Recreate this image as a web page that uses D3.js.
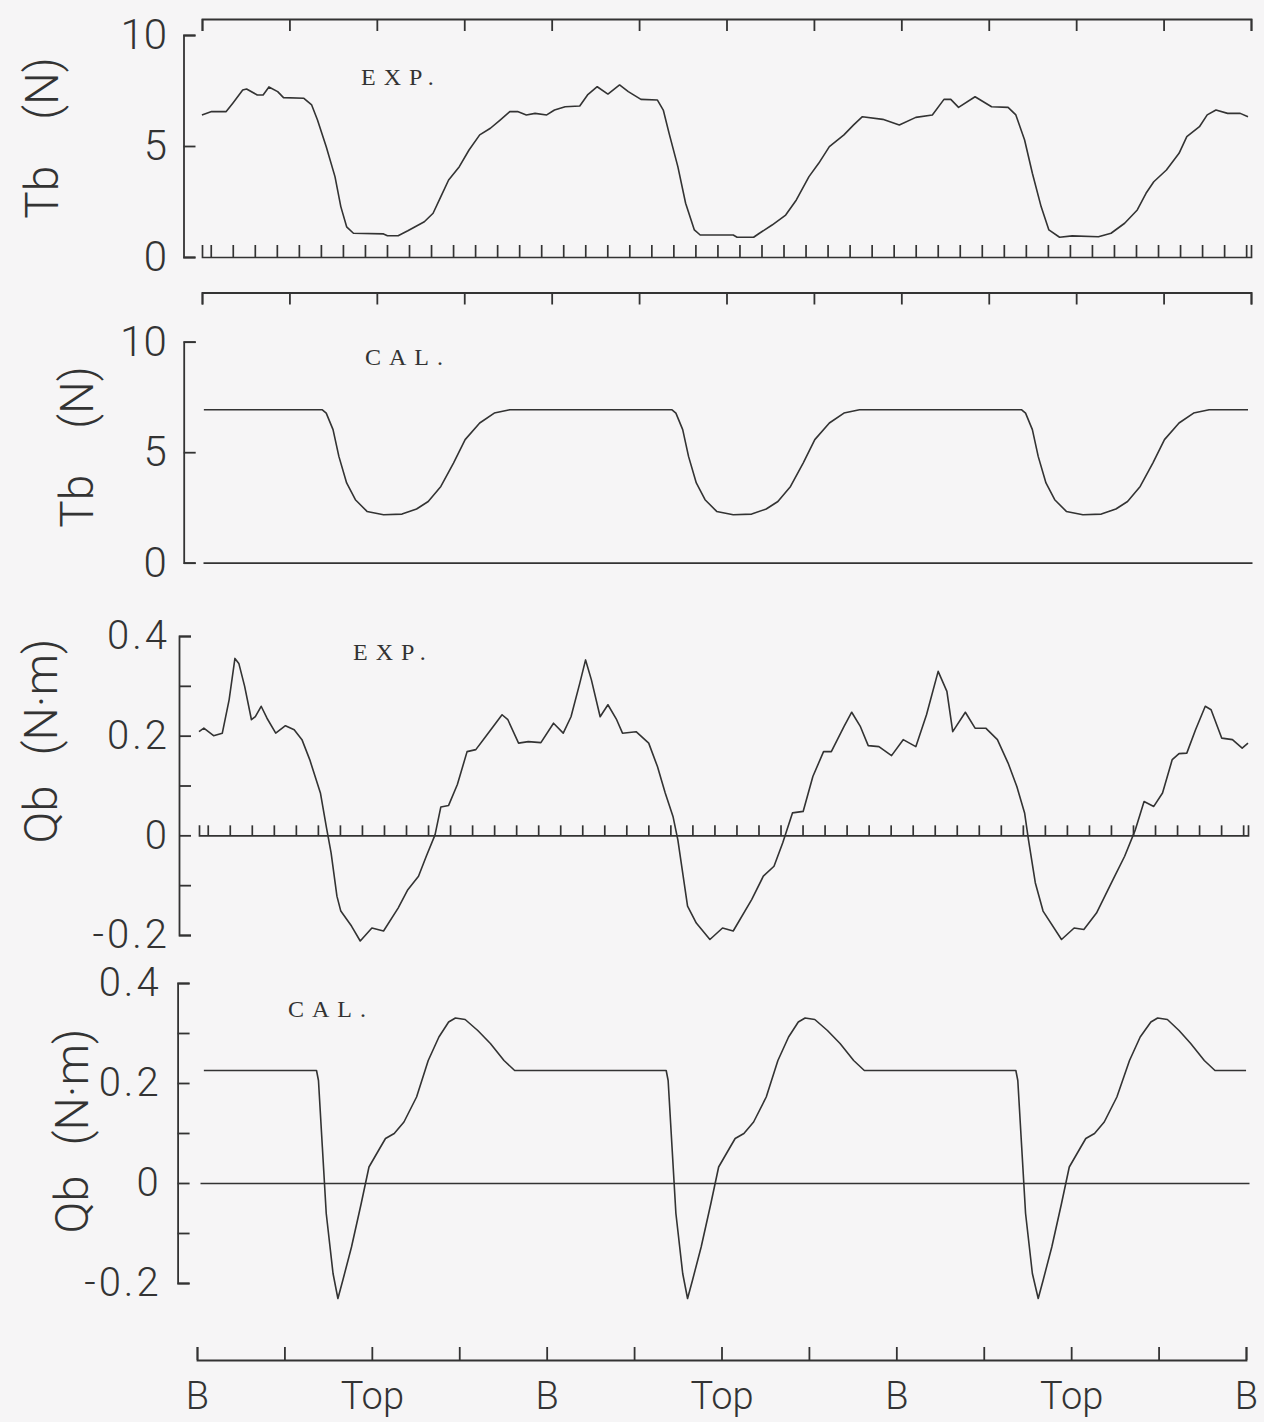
<!DOCTYPE html>
<html>
<head>
<meta charset="utf-8">
<script src="https://cdn.jsdelivr.net/npm/d3@7"></script>
<style>
  html, body { margin: 0; padding: 0; background: #f6f5f6; }
  svg { display: block; }
</style>
</head>
<body>
<svg id="chart" width="1264" height="1422"></svg>
<script>
// Crank angle in degrees over three revolutions (B = bottom, Top = top)
const majorAngles = [0, 90, 180, 270, 360, 450, 540, 630, 720, 810, 900, 990, 1080];
const labelAngles = [0, 180, 360, 540, 720, 900, 1080];
const labelTexts  = ["B", "Top", "B", "Top", "B", "Top", "B"];

// Y tick values and labels
const tbTickValues = [0, 5, 10];
const tbTickLabels = ["0", "5", "10"];
const qbTickValues = [-0.2, -0.1, 0, 0.1, 0.2, 0.3, 0.4];
const qbTickLabels = ["-0.2", "", "0", "", "0.2", "", "0.4"];

// Tb (N), measured: [angle, value]
const tbExp = [
  [3,6.40],[13,6.55],[28,6.55],[35,6.94],[45,7.52],[49,7.57],[60,7.30],[66,7.30],[72,7.66],[81,7.45],
  [87,7.18],[108,7.15],[116,6.85],[122,6.17],[131,4.97],[140,3.62],[146,2.27],[152,1.36],[159,1.07],
  [190,1.04],[194,0.96],[205,0.96],[215,1.18],[232,1.59],[241,1.97],[249,2.72],[257,3.47],[268,4.07],
  [278,4.82],[289,5.50],[300,5.80],[310,6.17],[320,6.55],[328,6.55],[337,6.40],[346,6.47],[358,6.40],
  [366,6.62],[377,6.77],[392,6.80],[400,7.30],[410,7.67],[421,7.34],[433,7.75],[442,7.45],[455,7.10],
  [472,7.07],[478,6.62],[484,5.57],[493,4.07],[501,2.42],[510,1.22],[516,0.99],[550,0.99],[554,0.89],
  [571,0.89],[577,1.07],[590,1.44],[604,1.89],[615,2.57],[628,3.62],[638,4.22],[649,4.97],[664,5.50],
  [674,5.95],[683,6.32],[704,6.20],[721,5.95],[738,6.29],[755,6.40],[767,7.10],[774,7.10],[782,6.74],
  [799,7.22],[816,6.77],[833,6.74],[841,6.40],[850,5.27],[858,3.77],[867,2.27],[875,1.22],[886,0.89],
  [899,0.95],[926,0.91],[939,1.07],[953,1.52],[966,2.12],[975,2.87],[983,3.39],[996,3.92],[1009,4.67],
  [1017,5.42],[1030,5.87],[1038,6.40],[1047,6.62],[1059,6.47],[1072,6.47],[1080,6.32]
];

// Tb (N), calculated
const tbCal = [
  [5,6.92],[127,6.92],[131,6.77],[138,6.02],[144,4.81],[152,3.61],[161,2.85],[173,2.32],[190,2.17],
  [209,2.20],[224,2.43],[236,2.77],[249,3.45],[262,4.51],[274,5.57],[289,6.32],[304,6.77],[320,6.92],
  [487,6.92],[491,6.77],[498,6.02],[504,4.81],[512,3.61],[521,2.85],[533,2.32],[550,2.17],
  [569,2.20],[584,2.43],[596,2.77],[609,3.45],[622,4.51],[634,5.57],[649,6.32],[664,6.77],[680,6.92],
  [847,6.92],[851,6.77],[858,6.02],[864,4.81],[872,3.61],[881,2.85],[893,2.32],[910,2.17],
  [929,2.20],[944,2.43],[956,2.77],[969,3.45],[982,4.51],[994,5.57],[1009,6.32],[1024,6.77],[1040,6.92],
  [1080,6.92]
];

// Qb (N·m), measured
const qbExp = [
  [0,0.208],[5,0.215],[15,0.200],[24,0.205],[31,0.272],[37,0.355],[41,0.345],[47,0.299],[54,0.232],
  [58,0.238],[64,0.259],[70,0.235],[79,0.205],[89,0.220],[98,0.212],[106,0.192],[114,0.152],[125,0.085],
  [131,0.018],[136,-0.035],[142,-0.122],[146,-0.152],[157,-0.182],[166,-0.212],[178,-0.186],[184,-0.189],
  [190,-0.192],[205,-0.146],[215,-0.109],[226,-0.082],[234,-0.042],[243,0.001],[249,0.057],[257,0.060],
  [266,0.102],[276,0.168],[285,0.172],[295,0.198],[312,0.242],[318,0.232],[329,0.185],[339,0.188],
  [352,0.186],[365,0.225],[375,0.205],[383,0.238],[392,0.305],[398,0.352],[404,0.312],[413,0.238],
  [421,0.262],[430,0.232],[436,0.205],[450,0.208],[463,0.185],[472,0.138],[480,0.085],[488,0.038],
  [493,-0.009],[499,-0.089],[503,-0.142],[512,-0.176],[526,-0.209],[539,-0.186],[550,-0.192],[569,-0.129],
  [581,-0.082],[592,-0.062],[601,-0.015],[611,0.045],[622,0.048],[632,0.118],[643,0.168],[651,0.168],
  [664,0.218],[672,0.247],[681,0.218],[689,0.180],[700,0.178],[713,0.160],[725,0.192],[738,0.178],
  [749,0.242],[761,0.329],[770,0.289],[776,0.208],[789,0.247],[799,0.215],[810,0.215],[822,0.192],
  [833,0.145],[842,0.098],[850,0.045],[854,-0.009],[861,-0.095],[869,-0.152],[888,-0.209],[901,-0.186],
  [911,-0.189],[924,-0.156],[941,-0.089],[953,-0.042],[964,0.011],[973,0.068],[983,0.058],[992,0.085],
  [1002,0.152],[1009,0.164],[1017,0.165],[1026,0.212],[1036,0.259],[1042,0.252],[1053,0.195],
  [1064,0.192],[1074,0.175],[1080,0.185]
];

// Qb (N·m), calculated
const qbCal = [
  [5,0.225],[121,0.225],[123,0.205],[127,0.072],[131,-0.061],[138,-0.181],[143,-0.231],[148,-0.195],
  [157,-0.128],[167,-0.041],[175,0.032],[186,0.069],[192,0.089],[201,0.099],[211,0.122],[224,0.172],
  [236,0.245],[247,0.292],[257,0.322],[264,0.330],[274,0.327],[287,0.305],[300,0.279],[314,0.245],[325,0.225],
  [481,0.225],[483,0.205],[487,0.072],[491,-0.061],[498,-0.181],[503,-0.231],[508,-0.195],
  [517,-0.128],[527,-0.041],[535,0.032],[546,0.069],[552,0.089],[561,0.099],[571,0.122],[584,0.172],
  [596,0.245],[607,0.292],[617,0.322],[624,0.330],[634,0.327],[647,0.305],[660,0.279],[674,0.245],[685,0.225],
  [841,0.225],[843,0.205],[847,0.072],[851,-0.061],[858,-0.181],[864,-0.231],[869,-0.195],
  [878,-0.128],[888,-0.041],[896,0.032],[907,0.069],[913,0.089],[922,0.099],[932,0.122],[945,0.172],
  [958,0.245],[969,0.292],[980,0.322],[987,0.330],[997,0.327],[1009,0.305],[1021,0.279],[1035,0.245],
  [1046,0.225],[1078,0.225]
];

const INK = "#333";
const SANS = "Roboto, 'Liberation Sans', sans-serif";
const SERIF = "'Liberation Serif', 'DejaVu Serif', serif";

const svg = d3.select("#chart");
svg.append("rect").attr("width", 1264).attr("height", 1422).attr("fill", "#f6f5f6");

const x = d3.scaleLinear().domain([0, 1080]).range([199, 1248]);

// evenly spaced small ticks along the reference line
const minorAngles = d3.range(48).map(i => 9 + i * (1075 - 9) / 47);

const panels = [
  { data: tbExp, domain: [0, 10], range: [257, 35], axisX: 183.5, pad: 16.5, fs: 42, ls: 0,
    ticks: tbTickValues, labels: tbTickLabels, minor: true, minorLen: 12, baseShift: 3,
    frameY: 19, title: ["Tb", "(N)"], titleX: 58, titleY: 138, titleFs: 46, gap: 46,
    tag: "EXP.", tagX: 361, tagY: 85 },
  { data: tbCal, domain: [0, 10], range: [562.7, 341.7], axisX: 183.7, pad: 17, fs: 42, ls: 0,
    ticks: tbTickValues, labels: tbTickLabels, minor: false, baseShift: 4,
    frameY: 292.5, title: ["Tb", "(N)"], titleX: 93, titleY: 447, titleFs: 46, gap: 46,
    tag: "CAL.", tagX: 365, tagY: 365 },
  { data: qbExp, domain: [-0.2, 0.4], range: [935, 636], axisX: 179, pad: 9, fs: 40, ls: 3,
    ticks: qbTickValues, labels: qbTickLabels, minor: true, minorLen: 10, baseShift: 0,
    title: ["Qb", "(N·m)"], titleX: 57, titleY: 741, titleFs: 47, gap: 30,
    tag: "EXP.", tagX: 353, tagY: 660 },
  { data: qbCal, domain: [-0.2, 0.4], range: [1283, 983], axisX: 177.6, pad: 16, fs: 40, ls: 3,
    ticks: qbTickValues, labels: qbTickLabels, minor: false, baseShift: 1,
    title: ["Qb", "(N·m)"], titleX: 88, titleY: 1131, titleFs: 47, gap: 30,
    tag: "CAL.", tagX: 288, tagY: 1017 }
];

function styleAxis(g, width) {
  g.selectAll("path.domain").attr("stroke", INK).attr("stroke-width", width || 1.8).attr("fill", "none");
  g.selectAll(".tick line").attr("stroke", INK).attr("stroke-width", width || 1.8);
}

panels.forEach(p => {
  const y = d3.scaleLinear().domain(p.domain).range(p.range);

  // top frame with tick marks pointing down
  if (p.frameY !== undefined) {
    const gTop = svg.append("g").attr("transform", `translate(3,${p.frameY})`)
      .call(d3.axisTop(x).tickValues(majorAngles).tickSize(-12).tickFormat(""));
    styleAxis(gTop);
  }

  // vertical axis: bracket with inward ticks
  const gy = svg.append("g").attr("transform", `translate(${p.axisX},0)`)
    .call(d3.axisLeft(y).tickValues(p.ticks).tickSize(-12).tickPadding(p.pad)
      .tickFormat((d, i) => p.labels[i]));
  styleAxis(gy);
  gy.selectAll(".tick text").attr("fill", INK).attr("font-family", SANS)
    .attr("font-weight", 300).attr("font-size", p.fs).attr("letter-spacing", p.ls);

  // reference line at zero, with small ticks on the measured panels
  const axisB = d3.axisBottom(x).tickSizeOuter(0).tickFormat("");
  if (p.minor) axisB.tickValues(minorAngles).tickSize(-p.minorLen);
  else axisB.tickValues([]);
  const gb = svg.append("g").attr("transform", `translate(${p.baseShift},${y(0)})`).call(axisB);
  styleAxis(gb, 1.7);

  // the curve
  svg.append("path")
    .datum(p.data)
    .attr("fill", "none")
    .attr("stroke", INK)
    .attr("stroke-width", 1.6)
    .attr("stroke-linejoin", "round")
    .attr("d", d3.line().x(d => x(d[0])).y(d => y(d[1])));

  // rotated axis title
  const t = svg.append("text")
    .attr("transform", `translate(${p.titleX},${p.titleY}) rotate(-90)`)
    .attr("text-anchor", "middle")
    .attr("font-family", SANS).attr("font-weight", 300)
    .attr("font-size", p.titleFs).attr("fill", INK);
  t.append("tspan").text(p.title[0]);
  t.append("tspan").attr("dx", p.gap).text(p.title[1]);

  // EXP. / CAL. tag
  svg.append("text")
    .attr("x", p.tagX).attr("y", p.tagY)
    .attr("font-family", SERIF).attr("font-size", 24)
    .attr("letter-spacing", 8).attr("fill", INK)
    .text(p.tag);
});

// crank-angle axis at the bottom
const gx = svg.append("g").attr("transform", "translate(-2,1360)")
  .call(d3.axisBottom(x).tickValues(majorAngles).tickSize(-13).tickPadding(22)
    .tickFormat(d => {
      const i = labelAngles.indexOf(d);
      return i >= 0 ? labelTexts[i] : "";
    }));
styleAxis(gx);
gx.selectAll(".tick text").attr("fill", INK).attr("font-family", SANS)
  .attr("font-weight", 300).attr("font-size", 38);
</script>
</body>
</html>
